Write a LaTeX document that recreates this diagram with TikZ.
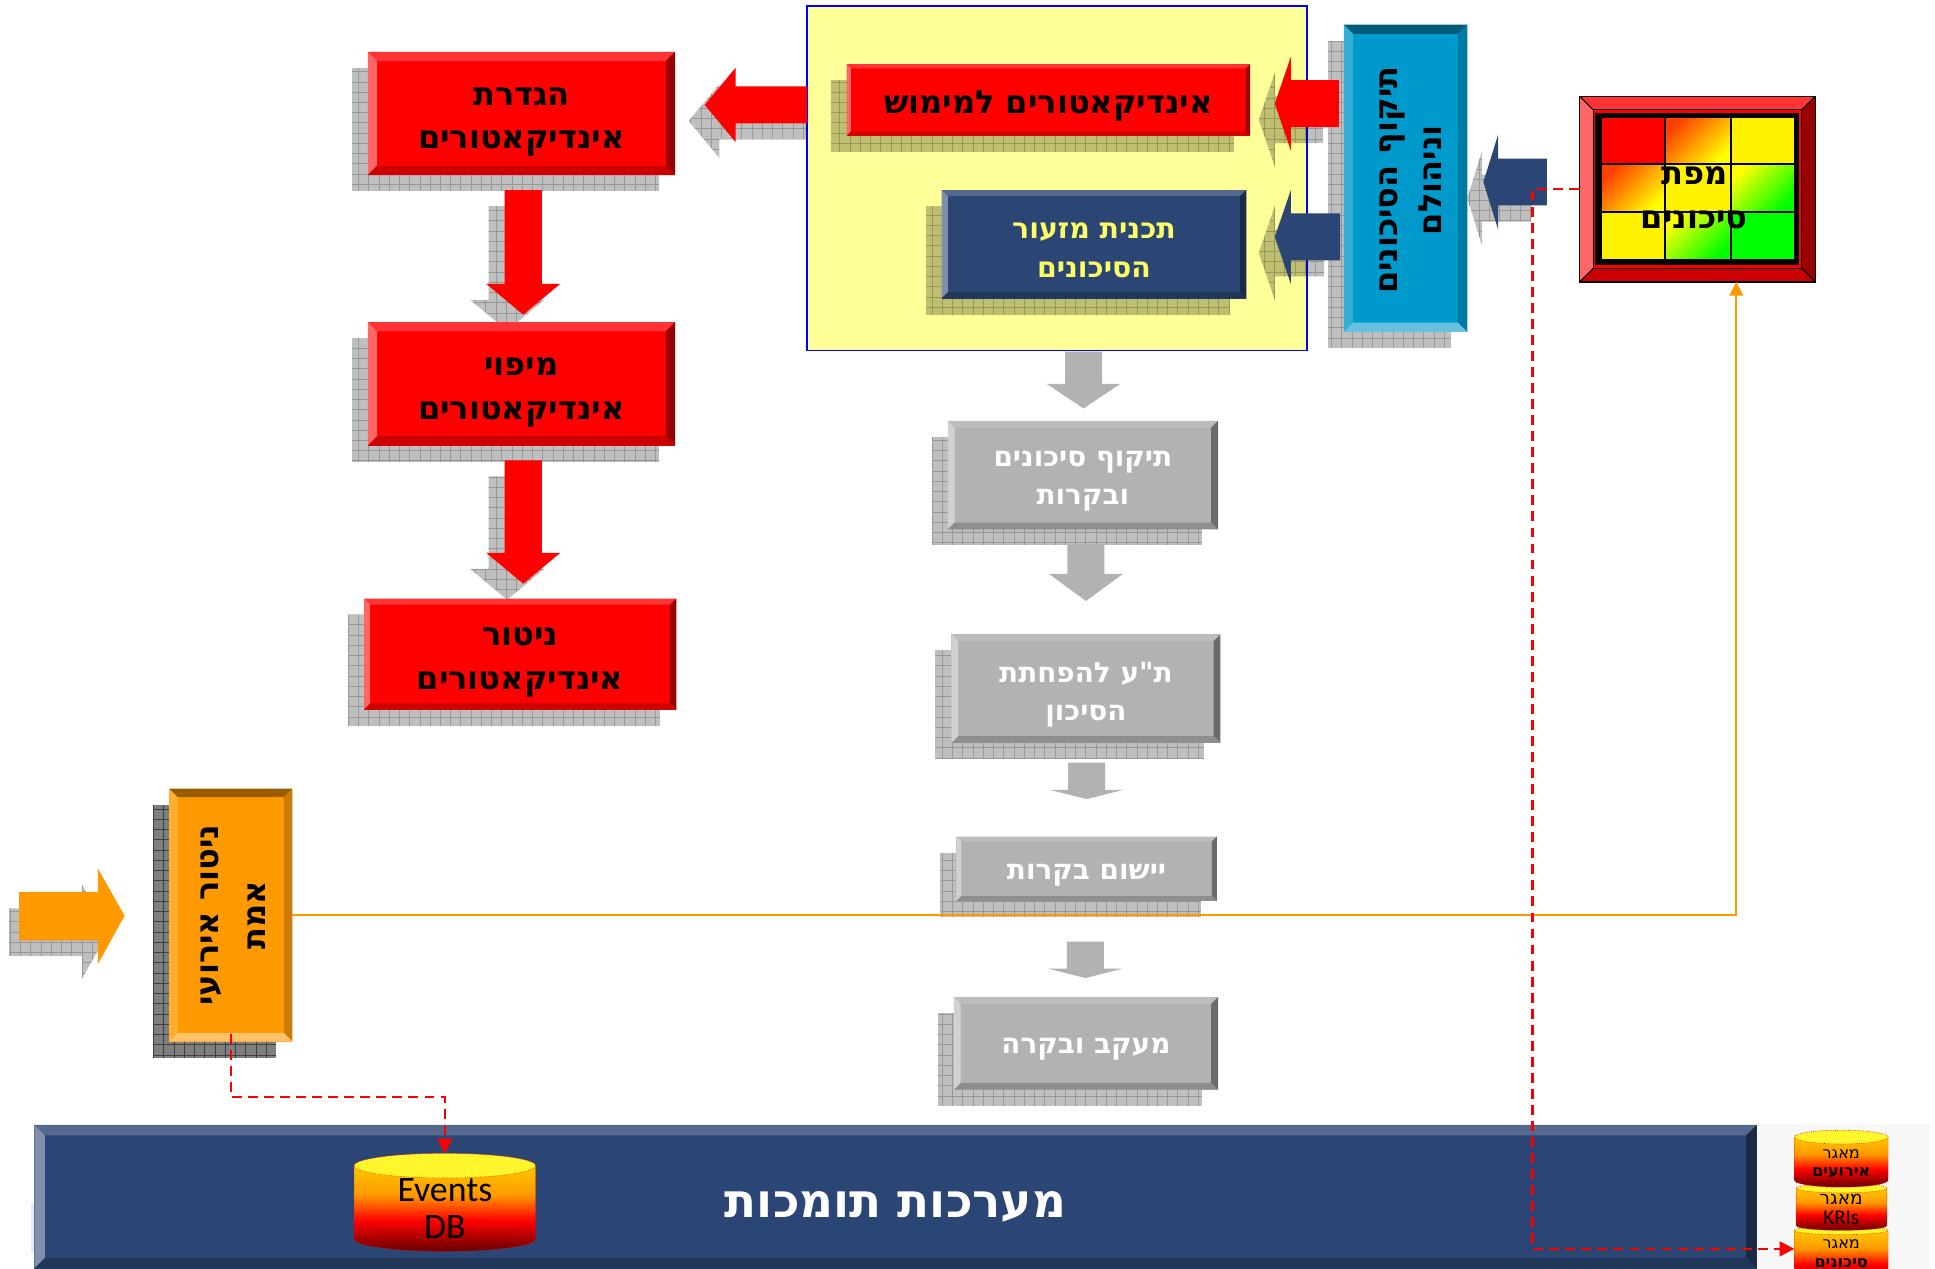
\documentclass[tikz,border=0pt]{standalone}
\usepackage{fontspec}
\setmainfont{Liberation Sans}
\newfontfamily\hb[Script=Hebrew]{DejaVu Sans}
\newfontfamily\lat{Carlito}
\TeXXeTstate=1
\usetikzlibrary{arrows.meta}
\newcommand\rl[1]{\beginR #1\endR}
% bevel colour themes
\definecolor{redB}{HTML}{FF0000}\definecolor{redT}{HTML}{FF3333}\definecolor{redL}{HTML}{FF6666}\definecolor{redR}{HTML}{990000}\definecolor{redD}{HTML}{CC0000}
\definecolor{navB}{HTML}{2B4675}\definecolor{navT}{HTML}{55698F}\definecolor{navL}{HTML}{808FAC}\definecolor{navR}{HTML}{1A2A46}\definecolor{navD}{HTML}{223859}
\definecolor{cyaB}{HTML}{0099CC}\definecolor{cyaT}{HTML}{005C7A}\definecolor{cyaL}{HTML}{33ADD6}\definecolor{cyaR}{HTML}{007AA3}\definecolor{cyaD}{HTML}{66C2E0}
\definecolor{oraB}{HTML}{FF9900}\definecolor{oraT}{HTML}{995C00}\definecolor{oraL}{HTML}{FFAD33}\definecolor{oraR}{HTML}{CC7A00}\definecolor{oraD}{HTML}{FFC266}
\definecolor{gryB}{HTML}{B2B2B2}\definecolor{gryT}{HTML}{BDBDBD}\definecolor{gryL}{HTML}{D1D1D1}\definecolor{gryR}{HTML}{6B6B6B}\definecolor{gryD}{HTML}{8E8E8E}
\definecolor{panel}{HTML}{FFFF99}
\definecolor{paneledge}{HTML}{0000FF}
\definecolor{navtxt}{HTML}{FFFF66}
\definecolor{cyltop}{HTML}{FFF62B}
\definecolor{cylA}{HTML}{660000}
\definecolor{cylB}{HTML}{FF0000}
\definecolor{cylC}{HTML}{FF9900}
\definecolor{cylD}{HTML}{FFC800}
\definecolor{hot}{HTML}{FF4000}
\definecolor{warm}{HTML}{FFA800}
\definecolor{lime}{HTML}{B0FF00}
\pgfdeclareverticalshading{cylshade}{100bp}{color(0bp)=(cylA); color(25bp)=(cylA); color(43bp)=(cylB); color(58bp)=(cylC); color(75bp)=(cylD); color(100bp)=(cylD)}
\tikzset{
  hatch/.style={fill=black,fill opacity=.25,path picture={\draw[black,draw opacity=.2,line width=.7pt,step=8.3pt] (path picture bounding box.south west) grid (path picture bounding box.north east);}},
  darkhatch/.style={fill=black,fill opacity=.5,path picture={\draw[black,draw opacity=.5,line width=.7pt,step=8.3pt] (path picture bounding box.south west) grid (path picture bounding box.north east);}},
  dropshift/.style={xshift=-13pt,yshift=-13pt},
  boxtext/.style={font=\hb\bfseries\fontsize{26}{35.5}\selectfont,text=black},
  greytext/.style={font=\hb\bfseries\fontsize{22.6}{31}\selectfont,text=white},
  navtext/.style={font=\hb\bfseries\fontsize{23}{32}\selectfont,text=navtxt},
  orangeflow/.style={draw=oraB,line width=1.5pt,-{Triangle[length=11pt,width=11pt]}},
  reddash/.style={draw=red,line width=2pt,dash pattern=on 8pt off 5pt,-{Triangle[length=12pt,width=12pt]}},
  cyledge/.style={draw=red,line width=.5pt,densely dotted},
  hotcell/.style={top color=hot,middle color=warm,bottom color=yellow,shading angle=45},
  coolcell/.style={top color=yellow,middle color=lime,bottom color=green,shading angle=45},
}
% [node opts]{name}{x1}{y1}{x2}{y2}{bevel}{theme}{text}
\newcommand\bev[9][]{%
  \fill[#8B] (#3,#4) rectangle (#5,#6);
  \fill[#8T] (#3,#4) -- ({#3+#7},{#4+#7}) -- ({#5-#7},{#4+#7}) -- (#5,#4) -- cycle;
  \fill[#8L] (#3,#4) -- ({#3+#7},{#4+#7}) -- ({#3+#7},{#6-#7}) -- (#3,#6) -- cycle;
  \fill[#8R] (#5,#4) -- ({#5-#7},{#4+#7}) -- ({#5-#7},{#6-#7}) -- (#5,#6) -- cycle;
  \fill[#8D] (#3,#6) -- ({#3+#7},{#6-#7}) -- ({#5-#7},{#6-#7}) -- (#5,#6) -- cycle;
  \node[rectangle,inner sep=0pt,align=center,minimum width={(#5-#3)*1pt},minimum height={(#6-#4)*1pt},#1] (#2) at ({(#3+#5)/2},{(#4+#6)/2}) {#9};
}
\newcommand\shad[5][hatch]{\path[#1] ({#2-13},{#3+13}) rectangle ({#4-13},{#5+13});}
% [style]{tip x}{base x}{end x}{mid y}{half shaft}{half head}
\newcommand\arrL[7][]{\path[#1] (#2,#5) -- (#3,{#5-#7}) -- (#3,{#5-#6}) -- (#4,{#5-#6}) -- (#4,{#5+#6}) -- (#3,{#5+#6}) -- (#3,{#5+#7}) -- cycle;}
% [style]{mid x}{top y}{base y}{tip y}{half shaft}{half head}
\newcommand\arrD[7][]{\path[#1] (#2,#5) -- ({#2-#7},#4) -- ({#2-#6},#4) -- ({#2-#6},#3) -- ({#2+#6},#3) -- ({#2+#6},#4) -- ({#2+#7},#4) -- cycle;}
% [node opts]{name}{x1}{x2}{ytop}{ybot}{ry}{text}
\newcommand\cyl[7][]{%
  \path[cyledge,shading=cylshade] (#3,{#5+#7}) -- (#3,{#6-#7}) arc[start angle=180,end angle=360,x radius={(#4-#3)/2*1pt},y radius=#7pt] -- (#4,{#5+#7}) -- cycle;
  \path[cyledge,fill=cyltop] ({(#3+#4)/2},{#5+#7}) ellipse[x radius={(#4-#3)/2*1pt},y radius=#7pt];
  \node[inner sep=0pt,align=center,#1] (#2) at ({(#3+#4)/2},{(#5+#6)/2}) {\vphantom{x}};
}
\begin{document}
\begin{tikzpicture}[x=1pt,y=-1pt]
\useasboundingbox (0,0) rectangle (1568,1028);
\clip (0,0) rectangle (1568,1028);
\fill[white] (0,0) rectangle (1568,1028);
% backdrop of the database stack
\fill[black!3] (1424,911) rectangle (1564,1028);
\fill[black!8] (25.5,975) rectangle (28,1015);
% yellow panel
\draw[fill=panel,draw=paneledge,line width=1.3pt] (654,5) rectangle (1059,284);

% shadows
\shad{298}{42}{547}{142}
\shad{298}{261}{547}{361}
\shad{295}{485}{548}{575}
\shad{686}{52}{1013}{110}
\shad{763}{154}{1010}{242}
\shad{1089}{20}{1189}{269}
\shad{768}{341}{987}{429}
\shad{771}{514}{989}{602}
\shad{775}{678}{986}{730}
\shad{773}{808}{987}{883}
\shad[darkhatch]{137}{639}{237}{844}

% arrow shadows
\begin{scope}[dropshift]
\arrL[hatch]{571}{596}{667}{85}{15}{30}
\arrD[hatch]{424}{154}{230}{255}{15}{30}
\arrD[hatch]{424}{373}{448}{473}{15}{30}
\arrL[hatch]{1033}{1046}{1085}{84}{19}{38}
\arrL[hatch]{1033}{1046}{1086}{192}{19}{38}
\arrL[hatch]{1202}{1214}{1253.5}{147.5}{19}{38.5}
\end{scope}
\path[hatch] (7.4,736) -- (66.5,736) -- (66.5,717) -- (88,755) -- (66.5,793) -- (66.5,774.5) -- (7.4,774.5) -- cycle;

% red boxes
\bev[boxtext,yshift=-7pt]{define}{298}{42}{547}{142}{7.5}{red}{\rl{הגדרת}\\\rl{אינדיקאטורים}}
\bev[boxtext,yshift=-7pt]{mapping}{298}{261}{547}{361}{7.5}{red}{\rl{מיפוי}\\\rl{אינדיקאטורים}}
\bev[boxtext,yshift=-7pt]{watch}{295}{485}{548}{575}{5}{red}{\rl{ניטור}\\\rl{אינדיקאטורים}}
\bev[boxtext,yshift=-5pt]{implement}{686}{52}{1013}{110}{3.5}{red}{\rl{אינדיקאטורים למימוש}}
\bev[navtext,yshift=-5pt]{plan}{763}{154}{1010}{242}{5}{nav}{\rl{תכנית מזעור}\\\rl{הסיכונים}}
\bev[boxtext,rotate=90,xshift=-1.5pt,yshift=-4pt]{validate}{1089}{20}{1189}{269}{7.5}{cya}{\rl{תיקוף הסיכונים}\\\rl{וניהולם}}
\bev[boxtext,rotate=90,yshift=-2pt,font=\hb\bfseries\fontsize{26}{38}\selectfont]{realtime}{137}{639}{237}{844}{7}{ora}{\rl{ניטור אירועי}\\\rl{אמת}}

% grey boxes
\bev[greytext,yshift=-5pt]{greyA}{768}{341}{987}{429}{5.5}{gry}{\rl{תיקוף סיכונים}\\\rl{ובקרות}}
\bev[greytext,yshift=-5pt]{greyB}{771}{514}{989}{602}{5.5}{gry}{\rl{ת"ע להפחתת}\\\rl{הסיכון}}
\bev[greytext,yshift=-5pt]{greyC}{775}{678}{986}{730}{4}{gry}{\rl{יישום בקרות}}
\bev[greytext,yshift=-5pt]{greyD}{773}{808}{987}{883}{5.5}{gry}{\rl{מעקב ובקרה}}

% block arrows
\arrL[fill=red]{571}{596}{654}{85}{15}{30}
\arrD[fill=red]{424}{154}{230}{255}{15}{30}
\arrD[fill=red]{424}{373}{448}{473}{15}{30}
\arrL[fill=red]{1033}{1046}{1085}{84}{19}{38}
\arrL[fill=navB]{1033}{1046}{1086}{192}{19}{38}
\arrL[fill=navB]{1202}{1214}{1253.5}{147.5}{19}{38.5}
\path[fill=oraB] (15.4,723) -- (79.4,723) -- (79.4,704) -- (101,742) -- (79.4,781) -- (79.4,762) -- (15.4,762) -- cycle;
\arrD[fill=gryB]{878}{285}{311}{331}{15}{30}
\arrD[fill=gryB]{880}{441}{465}{487}{15}{30}
\arrD[fill=gryB]{880.5}{618}{640}{647.5}{15}{30}
\arrD[fill=gryB]{879.5}{763}{785}{792.5}{15}{30}

% supporting systems bar
\bev[font=\hb\bfseries\fontsize{38}{40}\selectfont,text=white,yshift=-8pt]{support}{27.8}{911.5}{1423.5}{1028}{8.5}{nav}{\rl{מערכות תומכות}}

% risk map
\bev{riskmap}{1280}{78}{1471}{228.5}{11}{red}{}
\draw[black,line width=1pt] (1280,78) rectangle (1471,228.5);
\draw[black,line width=.8pt] (1291,89) rectangle (1460,217.5);
\draw[black,line width=.8pt] (1280,78) -- (1291,89) (1471,78) -- (1460,89) (1280,228.5) -- (1291,217.5) (1471,228.5) -- (1460,217.5);
\fill[black] (1292.6,91.3) rectangle (1457.9,214.7);
\fill[red] (1298.3,96) rectangle (1349,133);
\shade[hotcell] (1349,96) rectangle (1402.5,133);
\fill[yellow] (1402.5,96) rectangle (1453.7,133);
\shade[hotcell] (1298.3,133) rectangle (1349,172);
\fill[yellow] (1349,133) rectangle (1402.5,172);
\shade[coolcell] (1402.5,133) rectangle (1453.7,172);
\fill[yellow] (1298.3,172) rectangle (1349,209.6);
\shade[coolcell] (1349,172) rectangle (1402.5,209.6);
\fill[green] (1402.5,172) rectangle (1453.7,209.6);
\draw[black,line width=2pt] (1349,96) -- (1349,209.6) (1402.5,96) -- (1402.5,209.6) (1298.3,133) -- (1453.7,133) (1298.3,172) -- (1453.7,172);
\node[boxtext,align=center,inner sep=0pt] (risklabel) at (1373,160.5) {\rl{מפת}\\\rl{סיכונים}};

% databases
\cyl{eventsdb}{287}{434}{934.6}{1014}{10}{}
\node[font=\lat\fontsize{29}{30}\selectfont,align=center,inner sep=0pt] (eventslabel) at (360.5,979) {Events\\DB};
\cyl{dbrisks}{1454}{1530}{993.5}{1040}{3.5}{}
\node[font=\hb\fontsize{13}{15}\selectfont,align=center,inner sep=0pt] (risklbl) at (1492,1016) {\rl{מאגר}\\\rl{\bfseries סיכונים}};
\cyl{dbkri}{1455.5}{1529}{959}{997}{3.8}{}
\node[font=\hb\fontsize{15}{16}\selectfont,align=center,inner sep=0pt] (krilbl) at (1492,980) {\rl{מאגר}\\{\lat\fontsize{17}{16}\selectfont KRIs}};
\cyl{dbevents}{1454}{1530}{915.8}{962}{5.6}{}
\node[font=\hb\fontsize{13}{15}\selectfont,align=center,inner sep=0pt] (evlbl) at (1492,943) {\rl{מאגר}\\\rl{\bfseries אירועים}};

% connectors
\coordinate (realout) at (237,741.5);
\coordinate (mapin) at (1407,228.5);
\coordinate (rdcorner) at (1242,1012);
\coordinate (rdin) at (1454,1012);
\coordinate (ebottom) at (187,838);
\coordinate (ecorner) at (360.5,889);
\draw[orangeflow] (realout) -| (mapin);
\draw[reddash] (riskmap.west) -| (rdcorner) -- (rdin);
\draw[reddash] (ebottom) |- (ecorner) -- (eventsdb.center |- 0,934.6);
\end{tikzpicture}
\end{document}
